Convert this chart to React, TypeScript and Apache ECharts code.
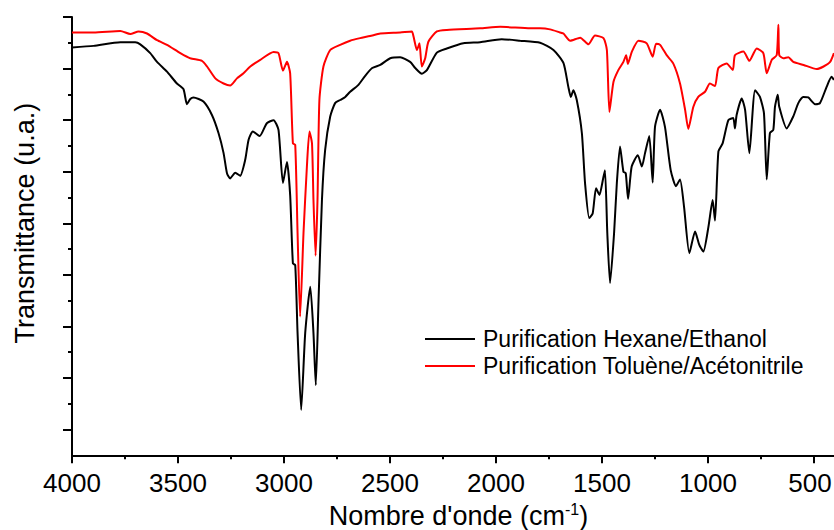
import React, { useEffect, useRef } from "react";
import * as echarts from "echarts";

const seriesNames = ["Purification Hexane/Ethanol", "Purification Toluène/Acétonitrile"];

const blackWn = [
  4000, 3898, 3772, 3702, 3678, 3631, 3599, 3552, 3505, 3474, 3458, 3442, 3427, 3380, 3340, 3309,
  3285, 3269, 3254, 3230, 3207, 3183, 3167, 3147, 3115, 3081, 3049, 3026, 3005, 2986, 2971, 2958,
  2947, 2936, 2919, 2900, 2876, 2861, 2850, 2837, 2821, 2806, 2782, 2759, 2735, 2711, 2688, 2650,
  2617, 2584, 2546, 2499, 2452, 2405, 2381, 2350, 2326, 2279, 2232, 2154, 2075, 1973, 1886, 1792,
  1729, 1682, 1659, 1647, 1635, 1619, 1595, 1580, 1560, 1544, 1528, 1512, 1496, 1486, 1475, 1462,
  1443, 1430, 1415, 1399, 1388, 1377, 1360, 1331, 1312, 1297, 1277, 1261, 1250, 1226, 1203, 1176,
  1151, 1132, 1113, 1088, 1061, 1041, 1022, 998, 978, 967, 951, 931, 904, 881, 873, 865, 841, 825,
  805, 778, 755, 736, 723, 708, 692, 684, 671, 664, 629, 598, 574, 551, 527, 495, 472, 440, 417, 406,
];
const blackT = [
  79.1, 79.4, 80.1, 80.1, 79.7, 78.0, 76.3, 74.4, 72.1, 71.0, 68.1, 69.1, 69.4, 68.6, 66.0, 62.5,
  58.6, 54.7, 53.7, 54.8, 54.2, 57.3, 61.2, 62.8, 61.9, 64.4, 65.0, 63.1, 52.8, 56.9, 50.5, 37.2,
  36.9, 23.7, 8.8, 23.7, 32.7, 23.7, 13.6, 30.1, 49.5, 59.2, 65.7, 68.3, 68.9, 69.5, 70.5, 71.8,
  73.6, 75.1, 75.7, 77.0, 77.2, 76.3, 75.1, 74.0, 74.7, 78.1, 78.9, 79.9, 80.1, 80.7, 80.4, 80.0,
  78.6, 76.1, 71.5, 69.5, 70.8, 68.9, 62.5, 52.8, 46.0, 46.9, 51.8, 50.5, 53.4, 55.3, 43.1, 33.4,
  43.1, 52.8, 59.9, 55.0, 54.7, 49.7, 56.0, 58.2, 56.0, 58.6, 61.9, 52.9, 63.7, 67.0, 63.7, 55.3,
  52.2, 53.5, 48.2, 39.2, 43.4, 40.8, 39.5, 44.3, 49.5, 45.5, 58.9, 60.5, 65.0, 65.4, 63.4, 66.0, 69.2, 67.0,
  58.6, 70.8, 69.5, 66.3, 53.5, 62.5, 63.1, 67.6, 69.9, 67.6, 63.4, 65.7, 68.3, 69.5, 69.4, 68.1, 68.3, 71.5, 73.4, 72.8,
];

const redWn = [
  4000, 3898, 3772, 3725, 3686, 3646, 3599, 3552, 3489, 3442, 3387, 3363, 3324, 3285, 3254, 3222,
  3191, 3159, 3112, 3049, 3026, 3005, 2986, 2971, 2958, 2947, 2936, 2924, 2908, 2892, 2880, 2868,
  2861, 2851, 2842, 2833, 2814, 2782, 2735, 2688, 2641, 2594, 2546, 2452, 2397, 2389, 2373, 2361,
  2350, 2334, 2319, 2279, 2232, 2075, 1980, 1839, 1792, 1745, 1698, 1682, 1650, 1603, 1564, 1533,
  1493, 1477, 1465, 1446, 1423, 1399, 1386, 1378, 1359, 1328, 1289, 1261, 1245, 1226, 1195, 1164,
  1132, 1108, 1093, 1069, 1046, 1014, 991, 967, 951, 912, 883, 873, 833, 805, 770, 739, 723, 699,
  676, 668, 664, 645, 621, 598, 549, 487, 455, 424, 406,
];
const redT = [
  82.0, 82.0, 82.3, 81.7, 82.2, 81.8, 80.5, 79.6, 78.0, 77.0, 76.5, 75.4, 73.1, 72.1, 71.7, 73.1,
  74.1, 75.4, 76.7, 78.2, 78.0, 74.6, 76.3, 74.1, 60.5, 60.2, 43.1, 26.9, 43.1, 56.0, 62.8, 60.5,
  49.5, 38.7, 49.5, 68.9, 75.4, 78.6, 79.6, 80.4, 80.9, 81.3, 81.8, 82.0, 82.2, 81.2, 78.6, 79.9,
  75.4, 77.0, 80.2, 82.2, 82.5, 82.8, 83.1, 82.8, 82.8, 82.6, 82.0, 81.8, 80.4, 81.0, 79.7, 81.4,
  80.9, 78.6, 66.6, 72.4, 74.7, 76.3, 77.6, 75.9, 78.3, 80.4, 79.9, 77.3, 79.8, 79.6, 77.6, 76.0,
  72.1, 67.0, 63.3, 67.6, 69.5, 70.5, 72.1, 71.6, 75.1, 76.0, 74.7, 77.6, 78.3, 76.5, 78.9, 78.0, 74.1, 76.7,
  77.6, 83.5, 77.6, 77.0, 77.2, 76.3, 75.7, 74.9, 75.4, 76.3, 78.0,
];

// Y axis: 0..85 (arbitrary units); long ticks at 5, 15, ..., 85 and short ticks at 10, 20, ..., 80
const yMin = 0;
const yMax = 85;
const yMajorFirst = 5;
const yMinorFirst = 10;
const yTickStep = 10;

const FONT = "'Liberation Sans', Arial, sans-serif";

export default function App() {
  const ref = useRef<HTMLDivElement>(null);
  useEffect(() => {
    if (!ref.current) return;
    const chart = echarts.init(ref.current, null, { renderer: "svg" });
    const pair = (xs: number[], ys: number[]) => xs.map((x, i) => [x, ys[i]]);
    const axisLineStyle = { color: "#000", width: 2 };

    const H = 530;
    const plotTop = 17;
    const plotBottomPx = 455.3;
    const pxPerUnit = (plotBottomPx - plotTop) / (yMax - yMin);
    const valToPx = (v: number) => plotBottomPx - (v - yMin) * pxPerUnit;

    const majorLast = yMax;
    const minorLast = yMax - yTickStep / 2;
    const baseGrid = { left: 72, right: 0, containLabel: false, outerBoundsMode: "none" };
    const grids = [
      { ...baseGrid, top: plotTop, bottom: H - plotBottomPx },
      { ...baseGrid, top: valToPx(majorLast), bottom: H - valToPx(yMajorFirst) },
      { ...baseGrid, top: valToPx(minorLast), bottom: H - valToPx(yMinorFirst) },
    ];

    const labelStyle = { fontFamily: FONT, fontSize: 26, color: "#000" };

    chart.setOption({
      animation: false,
      backgroundColor: "#fff",
      textStyle: { fontFamily: FONT },
      grid: grids,
      legend: {
        orient: "vertical",
        left: 425,
        top: 325.5,
        padding: 0,
        itemWidth: 50,
        itemHeight: 2,
        itemGap: 0,
        icon: "rect",
        textStyle: { fontFamily: FONT, fontSize: 23, color: "#000", lineHeight: 27, padding: [0, 0, 0, 3] },
        data: seriesNames,
      },
      xAxis: [
        {
          type: "value",
          gridIndex: 0,
          inverse: true,
          min: 0,
          max: 4000,
          interval: 500,
          name: "Nombre d'onde (cm{sup|-1})",
          nameLocation: "middle",
          nameGap: 46,
          nameTextStyle: {
            fontFamily: FONT,
            fontSize: 27,
            color: "#000",
            lineHeight: 30,
            padding: [0, 75, 0, 0],
            rich: {
              sup: { fontFamily: FONT, fontSize: 16, color: "#000", verticalAlign: "top", lineHeight: 30, padding: [0, 0, 12, 0] },
            },
          },
          axisLine: { onZero: false, lineStyle: axisLineStyle },
          axisTick: { show: true, inside: false, length: 8, lineStyle: axisLineStyle },
          minorTick: { show: true, splitNumber: 2, length: 4, lineStyle: axisLineStyle },
          splitLine: { show: false },
          minorSplitLine: { show: false },
          axisLabel: {
            ...labelStyle,
            margin: 15,
            showMinLabel: true,
            showMaxLabel: true,
            formatter: (v: number) => (v === 0 ? "" : v === 500 ? "{e|500}" : String(v)),
            rich: { e: { ...labelStyle, padding: [0, 8, 0, 0] } },
          },
        },
        { type: "value", gridIndex: 1, min: 0, max: 4000, inverse: true, show: false, axisLine: { onZero: false } },
        { type: "value", gridIndex: 2, min: 0, max: 4000, inverse: true, show: false, axisLine: { onZero: false } },
      ],
      yAxis: [
        {
          type: "value",
          gridIndex: 0,
          position: "left",
          min: yMin,
          max: yMax,
          name: "Transmittance (u.a.)",
          nameLocation: "middle",
          nameGap: 33,
          nameTextStyle: { fontFamily: FONT, fontSize: 27, color: "#000", lineHeight: 28, padding: [0, 0, 0, 26] },
          axisLine: { show: true, onZero: false, lineStyle: axisLineStyle },
          axisTick: { show: false },
          axisLabel: { show: false },
          splitLine: { show: false },
        },
        {
          type: "value",
          gridIndex: 1,
          position: "left",
          min: yMajorFirst,
          max: majorLast,
          interval: yTickStep,
          axisLine: { show: false, onZero: false },
          axisTick: { show: true, length: 9, lineStyle: axisLineStyle },
          axisLabel: { show: false },
          splitLine: { show: false },
        },
        {
          type: "value",
          gridIndex: 2,
          position: "left",
          min: yMinorFirst,
          max: minorLast,
          interval: yTickStep,
          axisLine: { show: false, onZero: false },
          axisTick: { show: true, length: 4, lineStyle: axisLineStyle },
          axisLabel: { show: false },
          splitLine: { show: false },
        },
      ],
      series: [
        {
          name: seriesNames[0],
          type: "line",
          xAxisIndex: 0,
          yAxisIndex: 0,
          data: pair(blackWn, blackT),
          showSymbol: false,
          symbol: "none",
          smooth: 0.2,
          color: "#000000",
          lineStyle: { color: "#000000", width: 2 },
        },
        {
          name: seriesNames[1],
          type: "line",
          xAxisIndex: 0,
          yAxisIndex: 0,
          data: pair(redWn, redT),
          showSymbol: false,
          symbol: "none",
          smooth: 0.2,
          color: "#ff0000",
          lineStyle: { color: "#ff0000", width: 2 },
        },
      ],
    });
    return () => chart.dispose();
  }, []);
  return (
    <div
      ref={ref}
      style={{ position: "fixed", left: 0, top: 0, width: 920, height: 530, background: "#fff" }}
    />
  );
}
